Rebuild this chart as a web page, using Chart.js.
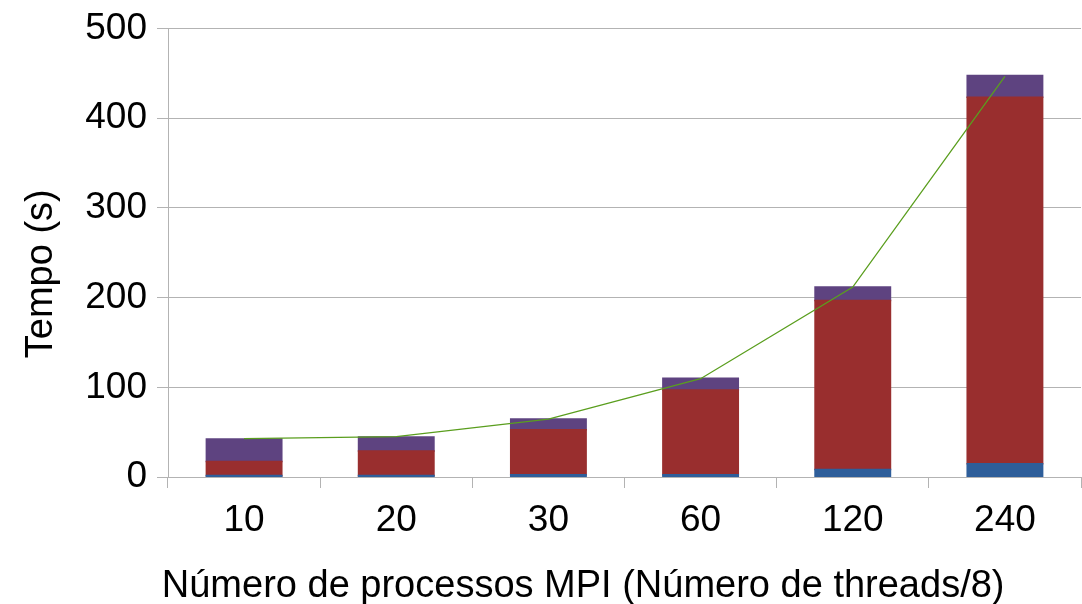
<!DOCTYPE html>
<html>
<head>
<meta charset="utf-8">
<script src="https://cdn.jsdelivr.net/npm/chart.js@4/dist/chart.umd.min.js"></script>
<style>
  html, body { margin: 0; padding: 0; background: #ffffff; }
  #wrap { width: 1082px; height: 604px; }
</style>
</head>
<body>
<div id="wrap"><canvas id="chart" width="1082" height="604"></canvas></div>
<script>
// Categories: number of MPI processes
const processos = ['10', '20', '30', '60', '120', '240'];

// Stacked time components (seconds)
const tempoAzul = [1.5, 1.5, 2.5, 2.5, 8.4, 14.7];
const tempoVermelho = [15.8, 27.5, 50.2, 94.5, 188.3, 408.6];
const tempoRoxo = [25.1, 15.6, 11.8, 13.0, 15.1, 24.3];

// Total time curve
const tempoTotal = [42.7, 45.0, 64.5, 109.6, 211.8, 446.5];

// Y axis tick values
const yTicks = [0, 100, 200, 300, 400, 500];

const TITLE_X = 'Número de processos MPI (Número de threads/8)';
const TITLE_Y = 'Tempo (s)';

const FONT_FAMILY = '"Liberation Sans", Arial, sans-serif';
const FONT_SIZE = 37;
const TITLE_SIZE = 38;
const GRID = '#b3b3b3';
const TICK_LEN = 11;
const TICK_PAD = 10;

// Axis titles are centred on the whole diagram (plot + tick labels)
const axisTitles = {
  id: 'axisTitles',
  afterDraw(chart) {
    const { ctx, chartArea, scales } = chart;
    ctx.save();
    ctx.font = `${FONT_SIZE}px ${FONT_FAMILY}`;
    const widest = Math.max(...yTicks.map(v => ctx.measureText(String(v)).width));
    const labelLeft = scales.y.right - TICK_LEN - TICK_PAD - widest;

    ctx.font = `${TITLE_SIZE}px ${FONT_FAMILY}`;
    ctx.fillStyle = '#000000';
    ctx.textAlign = 'center';
    ctx.textBaseline = 'alphabetic';
    ctx.fillText(TITLE_X, (labelLeft + chartArea.right) / 2, chartArea.bottom + 120);

    const topExtent = chartArea.top - 13;
    const bottomExtent = chartArea.bottom + 55;
    ctx.translate(52, (topExtent + bottomExtent) / 2);
    ctx.rotate(-Math.PI / 2);
    ctx.fillText(TITLE_Y, 0, 0);
    ctx.restore();
  }
};

// Shared look of the stacked segments: a slight overlap hides seams
const segment = { type: 'bar', stack: 'tempo', order: 1, borderWidth: 0, inflateAmount: 0.8 };

new Chart(document.getElementById('chart'), {
  data: {
    labels: processos,
    datasets: [
      {
        type: 'line',
        data: tempoTotal,
        borderColor: '#5a9e1e',
        borderWidth: 1.3,
        pointRadius: 0,
        tension: 0,
        fill: false,
        stack: 'total',
        order: 0
      },
      { ...segment, data: tempoAzul, backgroundColor: '#2e5e9a' },
      { ...segment, data: tempoVermelho, backgroundColor: '#992e2e' },
      { ...segment, data: tempoRoxo, backgroundColor: '#5e4380' }
    ]
  },
  options: {
    responsive: false,
    animation: false,
    devicePixelRatio: 1,
    categoryPercentage: 1,
    barPercentage: 0.495,
    layout: { padding: { left: 0, right: 1, top: 26, bottom: 0 } },
    plugins: {
      legend: { display: false },
      tooltip: { enabled: false },
      title: { display: false }
    },
    scales: {
      x: {
        stacked: true,
        offset: true,
        grid: {
          display: true,
          offset: true,
          drawOnChartArea: false,
          drawTicks: true,
          tickLength: TICK_LEN,
          color: GRID,
          lineWidth: 1
        },
        border: { display: true, color: GRID, width: 1 },
        ticks: {
          color: '#000000',
          padding: 11,
          maxRotation: 0,
          font: { family: FONT_FAMILY, size: FONT_SIZE }
        },
        afterFit(scale) { scale.height = 127; }
      },
      y: {
        stacked: true,
        min: 0,
        max: 500,
        afterBuildTicks(scale) { scale.ticks = yTicks.map(v => ({ value: v })); },
        grid: {
          color: GRID,
          lineWidth: 1,
          drawTicks: true,
          tickLength: TICK_LEN
        },
        border: { display: true, color: GRID, width: 1 },
        ticks: {
          color: '#000000',
          padding: TICK_PAD,
          font: { family: FONT_FAMILY, size: FONT_SIZE, lineHeight: 1 }
        },
        afterFit(scale) { scale.width = 168; }
      }
    }
  },
  plugins: [axisTitles]
});
</script>
</body>
</html>
